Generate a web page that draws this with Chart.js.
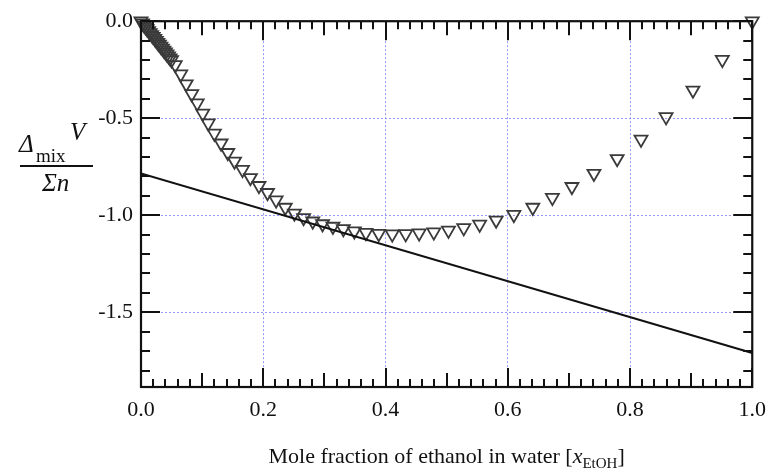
<!DOCTYPE html>
<html>
<head>
<meta charset="utf-8">
<script src="https://cdn.jsdelivr.net/npm/chart.js@4/dist/chart.umd.min.js"></script>
<style>
  body { margin: 0; background: #fff; }
  canvas { display: block; }
</style>
</head>
<body>
<canvas id="mixChart" width="776" height="474"></canvas>
<script>
// mole fraction of ethanol and excess molar volume
var ethanolX = [0, 0.0025, 0.005, 0.0075, 0.01, 0.0125, 0.015, 0.0175, 0.02, 0.0225, 0.025,
    0.0275, 0.03, 0.0325, 0.035, 0.0375, 0.04, 0.0425, 0.045, 0.0475, 0.05,
    0.056, 0.065, 0.074, 0.083, 0.092, 0.101, 0.110, 0.120, 0.131, 0.142,
    0.153, 0.166, 0.179, 0.193, 0.207, 0.221, 0.236, 0.251, 0.266, 0.281,
    0.297, 0.314, 0.331, 0.349, 0.368, 0.389, 0.411, 0.433, 0.455, 0.479,
    0.503, 0.528, 0.554, 0.581, 0.610, 0.641, 0.673, 0.705, 0.741, 0.779,
    0.818, 0.859, 0.903, 0.951, 1.0];
var mixVolume = [0, -0.01, -0.02, -0.03, -0.04, -0.05, -0.06, -0.07, -0.08, -0.09, -0.10,
    -0.11, -0.12, -0.13, -0.14, -0.15, -0.16, -0.17, -0.18, -0.19, -0.20,
    -0.225, -0.273, -0.324, -0.375, -0.422, -0.475, -0.525, -0.578, -0.629, -0.678,
    -0.722, -0.765, -0.807, -0.848, -0.884, -0.922, -0.96, -0.99, -1.013, -1.031,
    -1.045, -1.058, -1.07, -1.082, -1.09, -1.095, -1.097, -1.096, -1.092, -1.087,
    -1.078, -1.065, -1.047, -1.026, -0.997, -0.96, -0.909, -0.853, -0.785, -0.709,
    -0.609, -0.493, -0.356, -0.198, 0];

// tangent line
var tangentX = [0, 1];
var tangentY = [-0.785, -1.71];

var xTicks = [0, 0.2, 0.4, 0.6, 0.8, 1.0];
var yTicks = [0, -0.5, -1.0, -1.5];

var serif = "'Liberation Serif', 'DejaVu Serif', serif";

var scatterData = [];
for (var i = 0; i < ethanolX.length; i++) {
    scatterData.push({ x: ethanolX[i], y: mixVolume[i] });
}
var lineData = [];
for (var j = 0; j < tangentX.length; j++) {
    lineData.push({ x: tangentX[j], y: tangentY[j] });
}

// frame, inside ticks and the axis titles
var framePlugin = {
    id: 'frame',
    afterDraw: function (chart) {
        var ctx = chart.ctx;
        var a = chart.chartArea;
        var xs = chart.scales.x;
        var ys = chart.scales.y;
        ctx.save();
        ctx.strokeStyle = '#111';
        ctx.lineWidth = 2;

        // x ticks every 0.02, medium at 0.1, major at 0.2
        for (var k = 0; k <= 50; k++) {
            var px = Math.round(xs.getPixelForValue(k * 0.02));
            var len = (k % 10 === 0) ? 19 : (k % 5 === 0 ? 14 : 8);
            ctx.beginPath();
            ctx.moveTo(px, a.bottom); ctx.lineTo(px, a.bottom - len);
            ctx.moveTo(px, a.top); ctx.lineTo(px, a.top + len);
            ctx.stroke();
        }
        // y ticks every 0.1, major at 0.5
        for (var m = 0; m <= 18; m++) {
            var py = Math.round(ys.getPixelForValue(-m * 0.1));
            var ylen = (m % 5 === 0) ? 19 : 9;
            ctx.beginPath();
            ctx.moveTo(a.left, py); ctx.lineTo(a.left + ylen, py);
            ctx.moveTo(a.right, py); ctx.lineTo(a.right - ylen, py);
            ctx.stroke();
        }
        ctx.lineWidth = 2.2;
        ctx.strokeRect(a.left, a.top, a.right - a.left, a.bottom - a.top);

        // x axis title with subscript
        ctx.fillStyle = '#111';
        ctx.textBaseline = 'alphabetic';
        var main = 'Mole fraction of ethanol in water [';
        ctx.font = '22px ' + serif;
        var w1 = ctx.measureText(main).width;
        ctx.font = 'italic 22px ' + serif;
        var w2 = ctx.measureText('x').width;
        ctx.font = '15px ' + serif;
        var w3 = ctx.measureText('EtOH').width;
        ctx.font = '22px ' + serif;
        var w4 = ctx.measureText(']').width;
        var tx = (a.left + a.right) / 2 - (w1 + w2 + w3 + w4) / 2;
        var ty = 463;
        ctx.textAlign = 'left';
        ctx.fillText(main, tx, ty);
        ctx.font = 'italic 22px ' + serif;
        ctx.fillText('x', tx + w1, ty);
        ctx.font = '15px ' + serif;
        ctx.fillText('EtOH', tx + w1 + w2, ty + 5);
        ctx.font = '22px ' + serif;
        ctx.fillText(']', tx + w1 + w2 + w3, ty);

        // y axis title as a fraction
        ctx.font = 'italic 25px ' + serif;
        ctx.fillText('\u0394', 19, 152);
        ctx.font = '19px ' + serif;
        ctx.fillText('mix', 36, 162);
        ctx.font = 'italic 25px ' + serif;
        ctx.fillText('V', 70, 140);
        ctx.lineWidth = 2;
        ctx.beginPath();
        ctx.moveTo(20, 166); ctx.lineTo(93, 166);
        ctx.stroke();
        ctx.fillText('\u03A3n', 42, 191);
        ctx.restore();
    }
};

var ctx = document.getElementById('mixChart').getContext('2d');
var myChart = new Chart(ctx, {
    type: 'scatter',
    data: {
        datasets: [
            {
                type: 'line',
                data: lineData,
                borderColor: '#111',
                borderWidth: 2,
                pointRadius: 0,
                fill: false
            },
            {
                data: scatterData,
                pointStyle: 'triangle',
                rotation: 180,
                pointRadius: 7.5,
                pointBorderWidth: 1.8,
                borderColor: '#3a3a3a',
                backgroundColor: 'rgba(255,255,255,0)',
                clip: false
            }
        ]
    },
    options: {
        responsive: false,
        animation: false,
        layout: { padding: { left: 0, top: 18, right: 21, bottom: 0 } },
        plugins: {
            legend: { display: false },
            tooltip: { enabled: false }
        },
        scales: {
            x: {
                type: 'linear',
                min: 0,
                max: 1,
                afterBuildTicks: function (scale) {
                    scale.ticks = xTicks.map(function (v) { return { value: v }; });
                },
                afterFit: function (scale) { scale.height = 87; },
                ticks: {
                    color: '#111',
                    padding: 10,
                    maxRotation: 0,
                    font: { family: serif, size: 22 },
                    callback: function (v) { return Number(v).toFixed(1); }
                },
                grid: { color: 'rgba(140,140,240,0.9)', lineWidth: 1, drawTicks: false },
                border: { display: false, dash: [2, 2] }
            },
            y: {
                type: 'linear',
                min: -1.885,
                max: 0,
                afterBuildTicks: function (scale) {
                    scale.ticks = yTicks.map(function (v) { return { value: v }; });
                },
                afterFit: function (scale) { scale.width = 141; },
                ticks: {
                    color: '#111',
                    padding: 8,
                    font: { family: serif, size: 22 },
                    callback: function (v) { return Number(v).toFixed(1); }
                },
                grid: { color: 'rgba(140,140,240,0.9)', lineWidth: 1, drawTicks: false },
                border: { display: false, dash: [2, 2] }
            }
        }
    },
    plugins: [framePlugin]
});
</script>
</body>
</html>
